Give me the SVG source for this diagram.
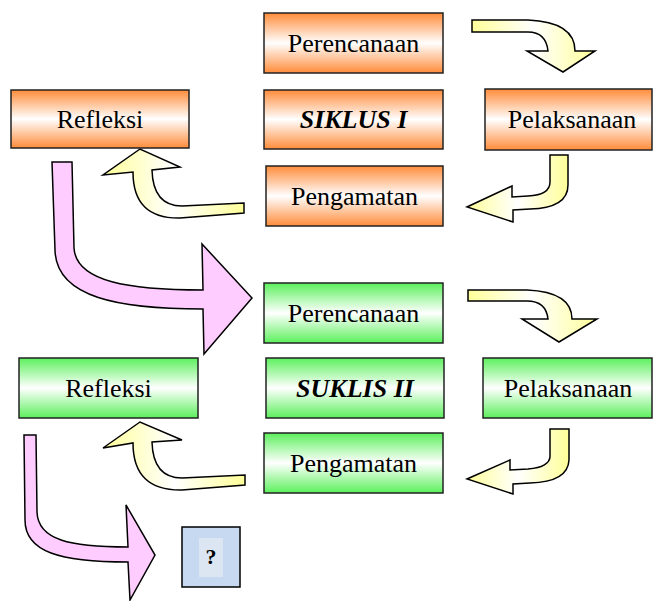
<svg xmlns="http://www.w3.org/2000/svg" width="653" height="601" viewBox="0 0 653 601">
<defs>
<linearGradient id="gOr" x1="0" y1="0" x2="0" y2="1">
<stop offset="0" stop-color="#FF8C3A"/><stop offset="0.5" stop-color="#FFFFFF"/><stop offset="1" stop-color="#FF8C3A"/>
</linearGradient>
<linearGradient id="gGr" x1="0" y1="0" x2="0" y2="1">
<stop offset="0" stop-color="#5CF05C"/><stop offset="0.5" stop-color="#FFFFFF"/><stop offset="1" stop-color="#5CF05C"/>
</linearGradient>
<linearGradient id="gYe" x1="0" y1="0" x2="1" y2="0">
<stop offset="0" stop-color="#FFFF99"/><stop offset="0.5" stop-color="#FFFFFF"/><stop offset="1" stop-color="#FFFF99"/>
</linearGradient>
<style>
.bo{fill:url(#gOr);stroke:#222;stroke-width:1.5}
.bg{fill:url(#gGr);stroke:#222;stroke-width:1.5}
.t{font-family:"Liberation Serif","Times New Roman",serif;font-size:26px;fill:#000;text-anchor:middle}
.tb{font-weight:bold;font-style:italic}
.ya{fill:url(#gYe);stroke:#000;stroke-width:1.5;stroke-linejoin:miter}
.pa{fill:#FFCCFF;stroke:#000;stroke-width:1.5}
</style>
</defs>
<g id="connectors">
<path class="ya" d="M472,20 L528,20 Q575,22 575,51 L595,51 L563,72 L527,51 L548,51 Q546,32 528,32 L472,32 Z"/>
<path class="ya" d="M550,155 L568,155 L568,185 Q568,208 530,209 L513,210 L513,222 L467,207 L512,186 L512,197 L528,196 Q550,195 550,182 Z"/>
<path class="ya" d="M244,203 L244,213 L180,218 Q133,219 133,172 L103,175 L140,149 L180,167 L152,170 Q153,206 182,206 Z"/>
<path class="pa" d="M52,162 L72,162 L74,248 C76,282 130,290 203,290 L202,244 L252,298 L204,354 L203,309 C120,309 56,298 55,250 Z"/>
<path class="ya" d="M468,290 L527,290 Q572,292 572,319 L597,319 L559,342 L522,319 L548,319 Q546,301 527,301 L468,301 Z"/>
<path class="ya" d="M550,429 L569,429 L569,460 Q568,482 530,483 L513,484 L513,494 L467,479 L510,460 L510,470 L528,469 Q551,467 550,455 Z"/>
<path class="ya" d="M245,475 L245,485 L182,490 Q133,491 133,443 L103,448 L140,422 L182,440 L152,442 Q153,478 182,478 Z"/>
<path class="pa" d="M24,435 L36,435 L37,512 C38,540 70,547 128,547 L126,505 L155,555 L130,600 L128,562 C60,562 25,552 25,520 Z"/>
</g>
<g id="n1"><rect class="bo" x="264" y="13" width="179" height="60"/><text class="t" x="353.5" y="52">Perencanaan</text></g>
<g id="n2"><rect class="bo" x="264" y="90" width="179" height="59"/><text class="t tb" x="353.5" y="128">SIKLUS I</text></g>
<g id="n3"><rect class="bo" x="485" y="89" width="167" height="61"/><text class="t" x="572" y="128">Pelaksanaan</text></g>
<g id="n4"><rect class="bo" x="266" y="166" width="177" height="60"/><text class="t" x="354.5" y="205">Pengamatan</text></g>
<g id="n5"><rect class="bo" x="11" y="90" width="178" height="58"/><text class="t" x="100" y="128">Refleksi</text></g>
<g id="n6"><rect class="bg" x="264" y="283" width="179" height="60"/><text class="t" x="353.5" y="322">Perencanaan</text></g>
<g id="n7"><rect class="bg" x="266" y="358" width="178" height="60"/><text class="t tb" x="355" y="397">SUKLIS II</text></g>
<g id="n8"><rect class="bg" x="483" y="358" width="169" height="60"/><text class="t" x="568" y="397">Pelaksanaan</text></g>
<g id="n9"><rect class="bg" x="264" y="433" width="179" height="60"/><text class="t" x="353.5" y="472">Pengamatan</text></g>
<g id="n10"><rect class="bg" x="19" y="358" width="179" height="60"/><text class="t" x="108.5" y="397">Refleksi</text></g>
<g id="n11"><rect x="182" y="527" width="58" height="60" fill="#C6D9F0" stroke="#000" stroke-width="1.5"/><rect x="199" y="538" width="24" height="39" fill="#DCE6F2"/><text x="211" y="564" style="font-family:'Liberation Serif','Times New Roman',serif;font-size:22px;font-weight:bold;text-anchor:middle">?</text></g>
</svg>
